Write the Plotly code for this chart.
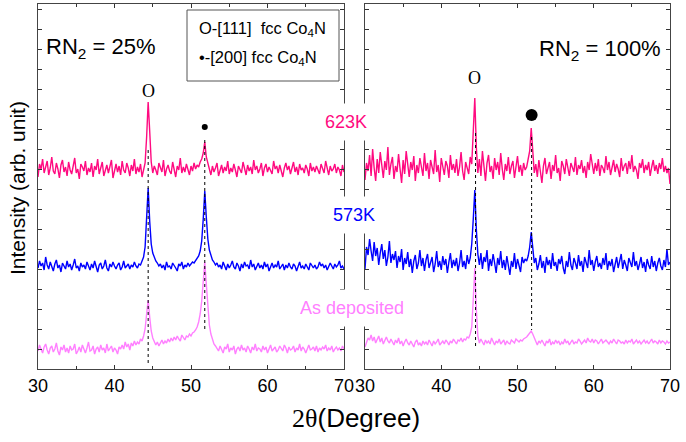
import plotly.graph_objects as go

# ---------------- data (2-theta step 0.2 deg, 30..70) ----------------
X_START = 30.0
X_STEP = 0.2

# Left panel: RN2 = 25%
L_623K = [192, 205, 200, 210, 196, 203, 208, 194, 201, 212, 198, 195, 206, 200, 191, 204, 209, 197, 202, 193,
          207, 199, 195, 203, 211, 196, 200, 190, 205, 202, 198, 208, 194, 201, 197, 206, 192, 203, 199, 210,
          195, 201, 207, 193, 199, 204, 196, 202, 209, 191, 200, 205, 197, 203, 194, 208, 199, 196, 206, 201,
          193, 204, 198, 210, 195, 202, 197, 205, 192, 200,
          206, 232, 267, 238, 207,
          196, 203, 199, 194, 206, 201, 197, 209, 193, 200, 204, 198, 195, 207, 201, 192, 203, 199, 211, 196,
          202, 197, 205, 200, 194,
          203, 198, 206, 200, 204, 202, 207,
          210, 216, 227, 212, 205,
          199, 194, 203, 197, 201, 206, 193, 200, 204, 196,
          202, 198, 208, 195, 201, 197, 205, 199, 192, 203,
          200, 196, 207, 201, 194, 204, 198, 202, 195, 209,
          199, 203, 196, 200, 206, 193, 201, 205, 197, 202,
          199, 195, 208, 200, 203, 196, 204, 198, 192, 201,
          206, 199, 203, 195, 200, 207, 197, 202, 194, 205,
          199, 201, 196, 204, 200, 193, 206, 198, 202, 197,
          203, 199, 195, 205, 200, 196, 208, 201, 194, 203,
          198, 200, 205, 196, 202, 199, 193, 204, 197]

L_573K = [101, 108, 103, 106, 99, 112, 104, 100, 107, 102,
          98, 105, 109, 101, 104, 97, 106, 103, 100, 108,
          102, 105, 99, 104, 110, 101, 103, 98, 106, 102,
          104, 100, 107, 103, 99, 105, 101, 108, 102, 97,
          104, 106, 100, 103, 109, 101, 98, 105, 102, 107,
          103, 100, 104, 106, 99, 102, 108, 101, 103, 105,
          100, 104, 102, 107, 103, 101, 105, 104, 108, 112,
          122, 150, 181, 148, 125,
          116, 111, 108, 106, 103,
          105, 101, 104, 99, 107, 102, 103, 100, 106, 104, 101, 98, 105, 103, 107, 100, 104, 102, 106, 103, 105, 107,
          106, 108, 110, 113, 118, 128, 150,
          178,
          152, 130, 119, 113, 109, 107, 104,
          106, 102, 104, 100, 107, 103, 99, 105, 101, 104,
          108, 102, 100, 106, 103, 98, 105, 101, 107, 103,
          104, 100, 109, 102, 105, 99, 103, 106, 101, 104,
          100, 107, 102, 105, 98, 103, 106, 101, 104, 102,
          108, 100, 103, 105, 99, 104, 101, 106, 102, 100,
          105, 103, 98, 104, 107, 101, 103, 100, 105, 102,
          99, 106, 103, 101, 104, 100, 102, 107, 103, 105,
          101, 104, 99, 102, 106, 103, 100, 105, 102, 104,
          108, 101, 103, 100]

L_ASDEP = [18, 24, 20, 16, 22, 25, 19, 15, 21, 23,
           17, 20, 26, 18, 14, 22, 19, 24, 17, 21,
           16, 23, 19, 20, 25, 15, 18, 22, 17, 24,
           20, 16, 21, 27, 18, 19, 23, 15, 20, 22,
           17, 24, 19, 21, 16, 25, 18, 20, 23, 17,
           21, 19, 15, 22, 20,
           24, 20, 27, 22, 25, 19, 26, 23, 28, 24, 27, 25, 30, 28, 33,
           40, 55, 69, 52, 38, 31,
           28, 24, 27, 23, 26, 29, 25, 28, 26, 30, 27, 31, 28, 32, 29, 33, 30, 28, 34, 31, 29, 33, 32, 35, 33, 36,
           37, 39, 42, 47, 55, 68, 88,
           107,
           85, 60, 44, 35, 29, 25, 23,
           21, 18, 23, 19, 16, 22, 20, 25, 17, 21,
           19, 23, 15, 20, 22, 18, 24, 19, 21, 17,
           23, 20, 16, 22, 19, 25, 18, 21, 20, 17,
           23, 19, 22, 16, 21, 24, 18, 20, 22, 17,
           19, 23, 20, 18, 24, 21, 16, 22, 19, 20,
           23, 17, 21, 19, 25, 18, 22, 20, 16, 21,
           24, 19, 20, 22, 18, 23, 17, 21, 19, 22,
           20, 24, 18, 21, 19, 23, 17, 20, 22, 19,
           21, 18, 23, 20]

# Right panel: RN2 = 100%
R_623K = [189, 206, 198, 214, 193, 220, 201, 188, 210, 196,
          217, 203, 191, 208, 199, 222, 194, 205, 212, 190,
          203, 197, 215, 200, 186, 209, 195, 218, 202, 192,
          207, 199, 213, 188, 204, 196, 211, 201, 193, 216,
          198, 206, 190, 209, 202, 195, 219, 197, 204, 187,
          211, 200, 194, 208, 203, 191, 214, 199, 205, 196,
          210, 193, 202, 217, 198, 189, 207, 201, 195, 212,
          205, 238, 271, 222, 196,
          210, 193, 218, 201, 188, 206, 214, 197, 203, 190,
          211, 199, 207, 194, 216, 200, 189, 205, 198, 212,
          195, 203, 208, 191, 200, 213, 197, 204, 193, 206, 199,
          202, 210, 218, 241, 212, 196,
          205, 192, 209, 199, 186, 203, 211, 195, 200, 207,
          190, 204, 198, 214, 196, 201, 188, 208, 203, 195,
          210, 199, 193, 206, 201, 197, 212, 194, 204, 200,
          209, 196, 203, 191, 207, 199, 215, 202, 195, 206,
          198, 210, 193, 204, 201, 196, 213, 199, 207, 194,
          202, 209, 197, 205, 200, 192, 211, 198, 203, 206,
          195, 208, 200, 214, 197, 203, 199, 190, 206, 201,
          210, 196, 204, 199, 207, 193, 202, 209, 198, 204,
          195, 206, 200, 211, 197, 203, 196, 201, 185]

R_573K = [100, 122, 114, 130, 118, 108, 127, 113, 121, 104,
          116, 125, 110, 119, 103, 112, 128, 106, 115, 109,
          118, 101, 113, 107, 120, 99, 111, 105, 117, 102,
          110, 96, 108, 114, 100, 106, 119, 103, 111, 98,
          109, 115, 101, 107, 112, 97, 105, 118, 102, 108,
          99, 113, 104, 110, 96, 107, 116, 101, 109, 103,
          111, 98, 106, 119, 102, 108, 100, 114, 105, 111,
          125, 150, 179, 140, 115,
          104, 116, 100, 112, 107, 119, 98, 110, 103, 115,
          106, 96, 111, 104, 118, 101, 109, 99, 113, 105,
          94, 108, 102, 116, 100, 110, 104, 97, 112, 106, 110,
          108, 113, 122, 137, 118, 106,
          111, 99, 105, 114, 101, 108, 96, 112, 104, 109,
          100, 116, 103, 107, 98, 110, 105, 113, 101, 95,
          108, 102, 117, 104, 99, 111, 106, 100, 114, 103,
          108, 97, 112, 105, 101, 119, 104, 109, 98, 107,
          113, 102, 106, 100, 111, 104, 116, 99, 108, 103,
          110, 97, 105, 112, 101, 107, 115, 100, 109, 104,
          98, 111, 106, 102, 117, 103, 108, 99, 105, 112,
          101, 107, 97, 110, 104, 100, 113, 102, 108, 98,
          106, 111, 103, 99, 109, 102, 120, 104, 107]

R_ASDEP = [22, 27, 31, 29, 34, 28, 32, 26, 30, 33,
           27, 31, 25, 29, 32, 28, 26, 30, 27, 24,
           29, 26, 31, 25, 28, 23, 27, 30, 26, 24,
           28, 25, 22, 27, 29, 24, 26, 23, 28, 25,
           27, 24, 29, 26, 23, 28, 25, 27, 30, 24,
           26, 28, 25, 29, 27, 24, 28, 26, 30, 27,
           25, 29, 28, 31, 27, 30, 29, 32, 31, 35,
           42, 70, 101, 60, 33,
           26, 30, 27, 24, 29, 26, 28, 25, 31, 27,
           24, 28, 26, 30, 25, 27, 29, 24, 28, 26,
           25, 29, 27, 26, 30, 28, 27, 29, 28, 30, 31,
           32, 34, 36, 38, 35, 31,
           27, 24, 28, 26, 29, 25, 23, 28, 26, 30,
           24, 27, 25, 29, 26, 28, 24, 27, 25, 30,
           26, 28, 24, 27, 29, 25, 27, 26, 30, 28,
           25, 27, 29, 26, 31, 28, 27, 30, 26, 29,
           28, 25, 27, 30, 26, 28, 29, 27, 25, 28,
           26, 30, 27, 25, 29, 28, 26, 27, 25, 29,
           26, 28, 27, 30, 25, 27, 29, 26, 28, 25,
           27, 29, 26, 28, 25, 27, 30, 26, 28, 27,
           25, 29, 26, 28, 27, 25, 28, 26, 27]

# Peak reference (dotted) lines: x position, y top, y bottom
L_REF_X = [44.4, 51.8]
L_REF_Y0 = [219, 229]
L_REF_Y1 = [3, 37]
R_REF_X = [44.5, 51.85]
R_REF_Y0 = [236, 232]
R_REF_Y1 = [20, 39]

# [200] markers (x, y, size)
L_DOT = (51.8, 242, 6)
R_DOT = (51.85, 254, 12)

SERIES_NAMES = ["623K", "573K", "As deposited"]
SERIES_COLORS = ["#FF0A80", "#0000FF", "#FF80FF"]
X_TICKS = [30, 40, 50, 60, 70]

for arr in (L_623K, L_573K, L_ASDEP, R_623K, R_573K, R_ASDEP):
    assert len(arr) == 201, len(arr)


def xs(y):
    return [round(X_START + X_STEP * i, 2) for i in range(len(y))]


W, H = 686, 442
SANS = "Liberation Sans, Arial, sans-serif"
SERIF = "Liberation Serif, Times New Roman, serif"

fig = go.Figure()

for axes, series in (("1", (L_623K, L_573K, L_ASDEP)), ("2", (R_623K, R_573K, R_ASDEP))):
    xa = "x" if axes == "1" else "x2"
    ya = "y" if axes == "1" else "y2"
    for name, col, ys in zip(SERIES_NAMES, SERIES_COLORS, series):
        fig.add_trace(go.Scatter(x=xs(ys), y=ys, mode="lines", name=name,
                                 line=dict(color=col, width=1.4), xaxis=xa, yaxis=ya,
                                 showlegend=False))

for xa, ya, rx, r0, r1, dot in (("x", "y", L_REF_X, L_REF_Y0, L_REF_Y1, L_DOT),
                                ("x2", "y2", R_REF_X, R_REF_Y0, R_REF_Y1, R_DOT)):
    for px, a, b in zip(rx, r0, r1):
        fig.add_trace(go.Scatter(x=[px, px], y=[a, b], mode="lines",
                                 line=dict(color="black", width=1, dash="dot"),
                                 xaxis=xa, yaxis=ya, showlegend=False))
    fig.add_trace(go.Scatter(x=[dot[0]], y=[dot[1]], mode="markers",
                             marker=dict(color="black", size=dot[2]),
                             xaxis=xa, yaxis=ya, showlegend=False))

xcommon = dict(range=[30, 70], tickvals=X_TICKS, ticks="inside", ticklen=4, tickcolor="#333",
               showline=True, linecolor="#444", linewidth=1, mirror="allticks",
               showgrid=False, zeroline=False, automargin=False,
               tickfont=dict(family=SANS, size=18, color="black"),
               minor=dict(ticks="inside", dtick=5, ticklen=3, tickcolor="#333", showgrid=False))
ycommon = dict(range=[0, 365], showticklabels=False, ticks="inside", ticklen=4, tickcolor="#333",
               dtick=20, showline=True, linecolor="#444", linewidth=1, mirror="allticks",
               showgrid=False, zeroline=False, automargin=False, domain=[1 - 369 / H, 1 - 4 / H])

fig.update_layout(
    template="none",
    width=W, height=H, margin=dict(l=0, r=0, t=0, b=0, autoexpand=False),
    paper_bgcolor="white", plot_bgcolor="white",
    xaxis=dict(domain=[38 / W, 344 / W], anchor="y", **xcommon),
    xaxis2=dict(domain=[365 / W, 670 / W], anchor="y2", **xcommon),
    yaxis=dict(anchor="x", **ycommon),
    yaxis2=dict(anchor="x2", **ycommon),
)

def px_ann(text, x, y, size, color="black", family=SANS, xanchor="center", **kw):
    fig.add_annotation(text=text, x=x / W, y=1 - y / H, xref="paper", yref="paper",
                       showarrow=False, xanchor=xanchor, yanchor="middle",
                       font=dict(family=family, size=size, color=color), **kw)

# panel titles
px_ann("RN<sub>2</sub> = 25%", 44, 48, 22, xanchor="left")
px_ann("RN<sub>2</sub> = 100%", 663, 50, 22, xanchor="right")

# legend box
fig.add_shape(type="rect", xref="paper", yref="paper",
              x0=187 / W, x1=339 / W, y0=1 - 81 / H, y1=1 - 10 / H,
              line=dict(color="#555", width=1), fillcolor="white")
px_ann("O-[111]  fcc Co<sub>4</sub>N", 197, 29, 16.5, xanchor="left")
px_ann("•-[200] fcc Co<sub>4</sub>N", 197, 58, 16.5, xanchor="left")

# peak symbols
px_ann("O", 148, 91, 18, family=SERIF)
px_ann("O", 474, 78, 18, family=SERIF)

# series labels with white background (break the frames)
px_ann("623K", 346, 122, 18, color=SERIES_COLORS[0], bgcolor="white", borderpad=8)
px_ann("573K", 354, 215, 18, color=SERIES_COLORS[1], bgcolor="white", borderpad=8)
px_ann("As deposited", 352, 308, 18, color=SERIES_COLORS[2], bgcolor="white", borderpad=8)

# axis titles
px_ann('<span style="font-family:Liberation Serif">2θ</span>(Degree)', 356, 418, 26)
px_ann("Intensity (arb. unit)", 17, 188, 21, textangle=-90)

fig.write_html("out.html", config={"displayModeBar": False},
               post_script="document.body.style.margin='0px';document.body.style.overflow='hidden';")
